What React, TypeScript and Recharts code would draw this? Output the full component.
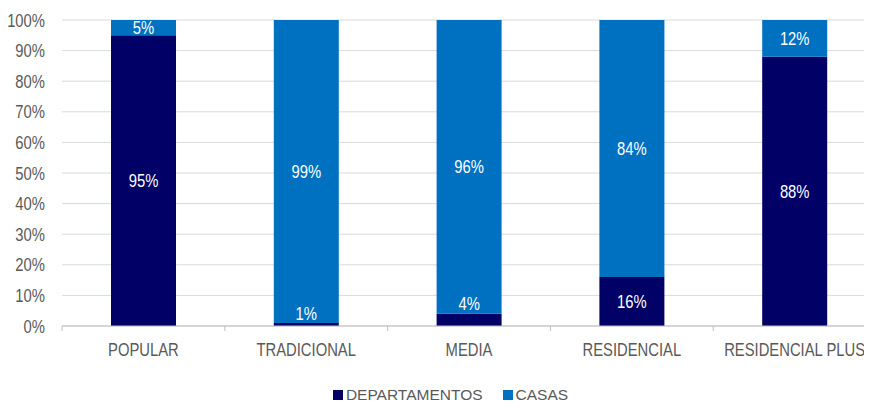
import { BarChart, Bar, XAxis, YAxis, CartesianGrid, Legend, LabelList } from "recharts";

const categories = ["POPULAR", "TRADICIONAL", "MEDIA", "RESIDENCIAL", "RESIDENCIAL PLUS"];
const departamentos = [95, 1, 4, 16, 88];
const casas = [5, 99, 96, 84, 12];
const yTicks = [0, 10, 20, 30, 40, 50, 60, 70, 80, 90, 100];

const NAVY = "#000066";
const BLUE = "#0070C0";
const TEXT = "#595959";
const FONT = "'Liberation Sans', Arial, sans-serif";
// the reference text is tall and narrow, so squeeze it sideways
const FS = 18.5;
const SQUEEZE = "scale(0.8,1)";

const CHART_W = 880;
const CHART_H = 395;
const MARGIN = { top: 12, right: 12, bottom: 0, left: 0 };
const Y_WIDTH = 54;
const X_MARGIN = 30;
const BAND = (CHART_W - MARGIN.left - MARGIN.right - Y_WIDTH) / categories.length;

const data = categories.map((name, i) => ({
  name,
  departamentos: departamentos[i],
  casas: casas[i],
}));

function XTick(props: any) {
  const { x, y, payload, index } = props;
  const axisY = y - X_MARGIN;
  const last = index === categories.length - 1;
  return (
    <g>
      <line x1={x - BAND / 2} x2={x - BAND / 2} y1={axisY} y2={axisY + 5} stroke="#bfbfbf" />
      {last && (
        <line x1={x + BAND / 2} x2={x + BAND / 2} y1={axisY} y2={axisY + 5} stroke="#bfbfbf" />
      )}
      <text
        transform={`translate(${x},${y}) ${SQUEEZE}`}
        textAnchor="middle"
        fill={TEXT}
        fontSize={FS}
        fontFamily={FONT}
      >
        {payload.value}
      </text>
    </g>
  );
}

function YTick(props: any) {
  const { x, y, payload } = props;
  return (
    <text
      transform={`translate(${x},${y + 6.6}) ${SQUEEZE}`}
      textAnchor="end"
      fill={TEXT}
      fontSize={FS}
      fontFamily={FONT}
    >
      {payload.value}%
    </text>
  );
}

function SegmentLabel(props: any) {
  const { x, y, width, height, value } = props;
  // very thin segments get their label just above them
  const cy = height >= 14 ? y + height / 2 : y - 10;
  return (
    <text
      transform={`translate(${x + width / 2},${cy + 6.6}) ${SQUEEZE}`}
      textAnchor="middle"
      fill="#ffffff"
      fontSize={FS}
      fontFamily={FONT}
    >
      {value}%
    </text>
  );
}

function LegendContent() {
  const items = [
    { name: "DEPARTAMENTOS", color: NAVY },
    { name: "CASAS", color: BLUE },
  ];
  return (
    <div
      style={{
        display: "flex",
        justifyContent: "center",
        gap: 20,
        height: 20,
        lineHeight: "20px",
        fontSize: 15.5,
        color: TEXT,
        fontFamily: FONT,
        paddingLeft: 17,
      }}
    >
      {items.map((it) => (
        <span
          key={it.name}
          style={{ display: "inline-flex", alignItems: "center", position: "relative", top: 1.5 }}
        >
          <span style={{ width: 10, height: 10, background: it.color, marginRight: 3 }} />
          {it.name}
        </span>
      ))}
    </div>
  );
}

export default function App() {
  return (
    <div style={{ width: 864, height: CHART_H, overflow: "hidden" }}>
      <BarChart width={CHART_W} height={CHART_H} data={data} margin={MARGIN}>
        <CartesianGrid vertical={false} stroke="#d9d9d9" />
        <XAxis
          dataKey="name"
          tick={<XTick />}
          tickLine={false}
          tickSize={0}
          tickMargin={X_MARGIN}
          axisLine={{ stroke: "#bfbfbf" }}
          height={57}
          interval={0}
        />
        <YAxis
          domain={[0, 100]}
          ticks={yTicks}
          tick={<YTick />}
          tickLine={false}
          tickSize={0}
          tickMargin={17}
          axisLine={false}
          width={Y_WIDTH}
        />
        <Legend verticalAlign="bottom" content={<LegendContent />} />
        <Bar dataKey="departamentos" stackId="a" fill={NAVY} barSize={65} isAnimationActive={false}>
          <LabelList dataKey="departamentos" content={<SegmentLabel />} />
        </Bar>
        <Bar dataKey="casas" stackId="a" fill={BLUE} barSize={65} isAnimationActive={false}>
          <LabelList dataKey="casas" content={<SegmentLabel />} />
        </Bar>
      </BarChart>
    </div>
  );
}
